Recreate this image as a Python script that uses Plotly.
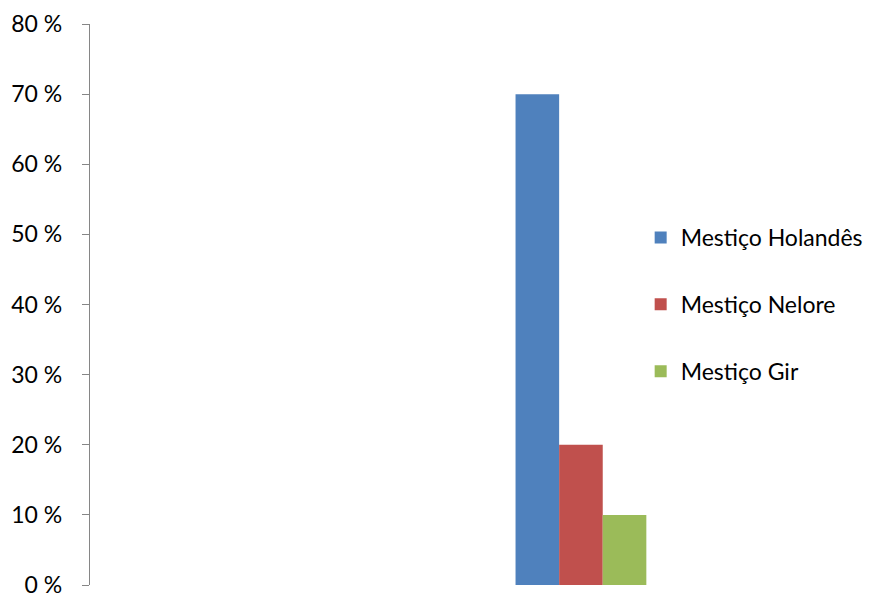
import plotly.graph_objects as go

categories = [""]
series_names = ["Mestiço Holandês", "Mestiço Nelore", "Mestiço Gir"]
series_values = [[70], [20], [10]]
colors = ["#4F81BD", "#C0504D", "#9BBB59"]
tick_vals = [0, 10, 20, 30, 40, 50, 60, 70, 80]
tick_text = [f"{v} %" for v in tick_vals]

FONT = "Lato"
fig = go.Figure()
for i, (name, vals) in enumerate(zip(series_names, series_values)):
    fig.add_trace(go.Bar(
        x=categories, y=vals, name=name,
        marker=dict(color=colors[i], line=dict(width=0)),
        legendgroup=f"g{i}",
    ))

fig.update_layout(
    width=872, height=594,
    margin=dict(l=90, r=128, t=24, b=9, autoexpand=False),
    paper_bgcolor="white", plot_bgcolor="white",
    barmode="group", bargap=0.4, bargroupgap=0,
    font=dict(family=FONT, size=23, color="black"),
    showlegend=True,
    legend=dict(
        x=0.842, y=0.5, xanchor="left", yanchor="middle",
        font=dict(family=FONT, size=23, color="black"),
        tracegroupgap=34, itemwidth=30, bgcolor="rgba(0,0,0,0)",
    ),
    xaxis=dict(
        type="category", range=[-2.252, 0.748],
        showline=False, showticklabels=False, ticks="", showgrid=False,
        zeroline=False, fixedrange=True, automargin=False,
    ),
    yaxis=dict(
        range=[0, 80], tickvals=tick_vals, ticktext=tick_text,
        showline=True, linecolor="#868686", linewidth=1.3,
        ticks="outside", ticklen=7, tickcolor="#868686", tickwidth=1.3,
        showgrid=False, zeroline=False, ticklabelstandoff=15,
        ticklabeloverflow="allow", automargin=False,
        tickfont=dict(family=FONT, size=23, color="black"),
    ),
)

fig.write_html("out.html")
